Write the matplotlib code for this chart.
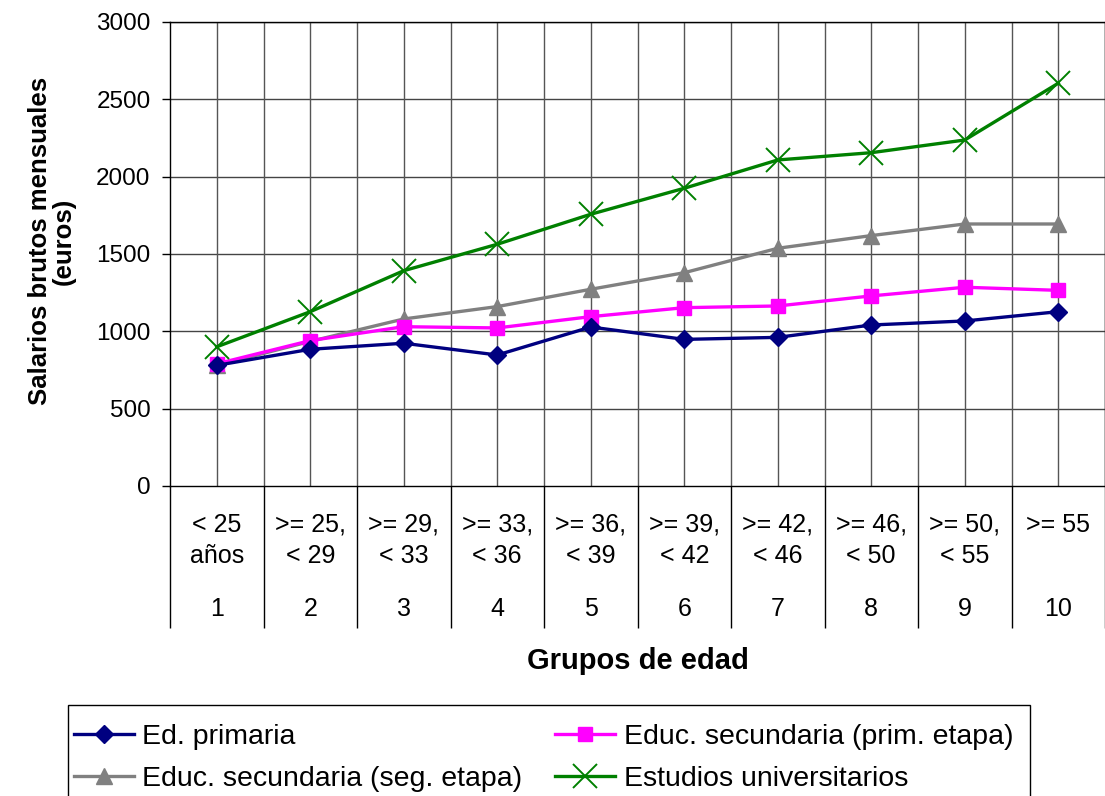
#!/usr/bin/env python3

# salarios brutos mensuales por grupo de edad y nivel de estudios

import numpy as np
import matplotlib
matplotlib.use('Agg')
import matplotlib.pyplot as plt
import matplotlib.transforms as mtransforms
from matplotlib.patches import Rectangle

matplotlib.rcParams['font.family'] = ['Liberation Sans', 'DejaVu Sans']
matplotlib.rcParams['font.size'] = 17

grupos = [1, 2, 3, 4, 5, 6, 7, 8, 9, 10]
rango_sup = ['< 25', '>= 25,', '>= 29,', '>= 33,', '>= 36,', '>= 39,',
             '>= 42,', '>= 46,', '>= 50,', '>= 55']
rango_inf = ['años', '< 29', '< 33', '< 36', '< 39', '< 42', '< 46',
             '< 50', '< 55', '']

primaria = [780, 884, 923, 847, 1028, 948, 961, 1041, 1067, 1127]
sec_prim = [790, 940, 1030, 1022, 1095, 1153, 1164, 1229, 1285, 1265]
sec_seg = [780, 935, 1080, 1160, 1272, 1379, 1537, 1619, 1694, 1694]
universitarios = [900, 1127, 1392, 1563, 1757, 1925, 2108, 2155, 2237, 2604]

fig = plt.figure(figsize=(11.05, 7.96), dpi=100)
ax = fig.add_axes([170 / 1105, 1 - 486 / 796, 935 / 1105, 464 / 796])

x = np.array(grupos)
l1, = ax.plot(x, primaria, color='#000080', lw=2.4, marker='D',
              markersize=9, label='Ed. primaria', zorder=5)
l2, = ax.plot(x, sec_prim, color='#FF00FF', lw=2.4, marker='s',
              markersize=10, label='Educ. secundaria (prim. etapa)', zorder=4)
l3, = ax.plot(x, sec_seg, color='#808080', lw=2.4, marker='^',
              markersize=11, label='Educ. secundaria (seg. etapa)', zorder=3)
l4, = ax.plot(x, universitarios, color='#008000', lw=2.4, marker='x',
              markersize=17, markeredgewidth=1.4,
              label='Estudios universitarios', zorder=6)

ax.set_xlim(0.5, 10.5)
ax.set_ylim(0, 3000)
ax.set_yticks(np.arange(0, 3001, 500))
ax.tick_params(axis='y', length=6, width=1, pad=8, labelsize=17.5)

# grid: horizontal every 500, vertical every half category
for yv in np.arange(500, 3001, 500):
    ax.axhline(yv, color='#444444', lw=1, zorder=1)
for xv in np.arange(1, 21) * 0.5 + 0.5:
    ax.axvline(xv, color='#555555', lw=1, zorder=1)

ax.set_xticks([])
for s in ax.spines.values():
    s.set_color('black')
    s.set_linewidth(1)

# category table below the axis
trans = mtransforms.blended_transform_factory(ax.transData, ax.transAxes)
ax.vlines(np.arange(0.5, 11, 1.0), -0.306, 0, transform=trans,
          color='black', lw=1, clip_on=False)
for g, a, b in zip(grupos, rango_sup, rango_inf):
    ax.text(g, -0.084, a, transform=trans, ha='center', va='center',
            fontsize=18)
    ax.text(g, -0.150, b, transform=trans, ha='center', va='center',
            fontsize=18)
    ax.text(g, -0.265, str(g), transform=trans, ha='center',
            va='center', fontsize=18)

ax.text(0.5, -0.378, 'Grupos de edad', transform=ax.transAxes, ha='center',
        va='center', fontsize=21, fontweight='bold')
fig.text(52 / 1105, 1 - 241 / 796, 'Salarios brutos mensuales\n(euros)',
         rotation=90, ha='center', va='center', fontsize=18.5,
         fontweight='bold', linespacing=1.0, multialignment='center')

# legend box runs off the bottom of the picture
fig.patches.append(Rectangle((68 / 1105, -0.05), (1030 - 68) / 1105,
                             (796 - 705) / 796 + 0.05,
                             transform=fig.transFigure, fill=False,
                             edgecolor='black', lw=1))
leg = fig.legend(handles=[l1, l3, l2, l4], ncol=2,
                 loc='upper left', bbox_to_anchor=(74 / 1105, 1 - 724 / 796),
                 frameon=False, fontsize=20.5, handlelength=2.1,
                 columnspacing=1.15, handletextpad=0.3, labelspacing=0.55,
                 borderaxespad=0, borderpad=0)

fig.savefig('out.png', dpi=100)
